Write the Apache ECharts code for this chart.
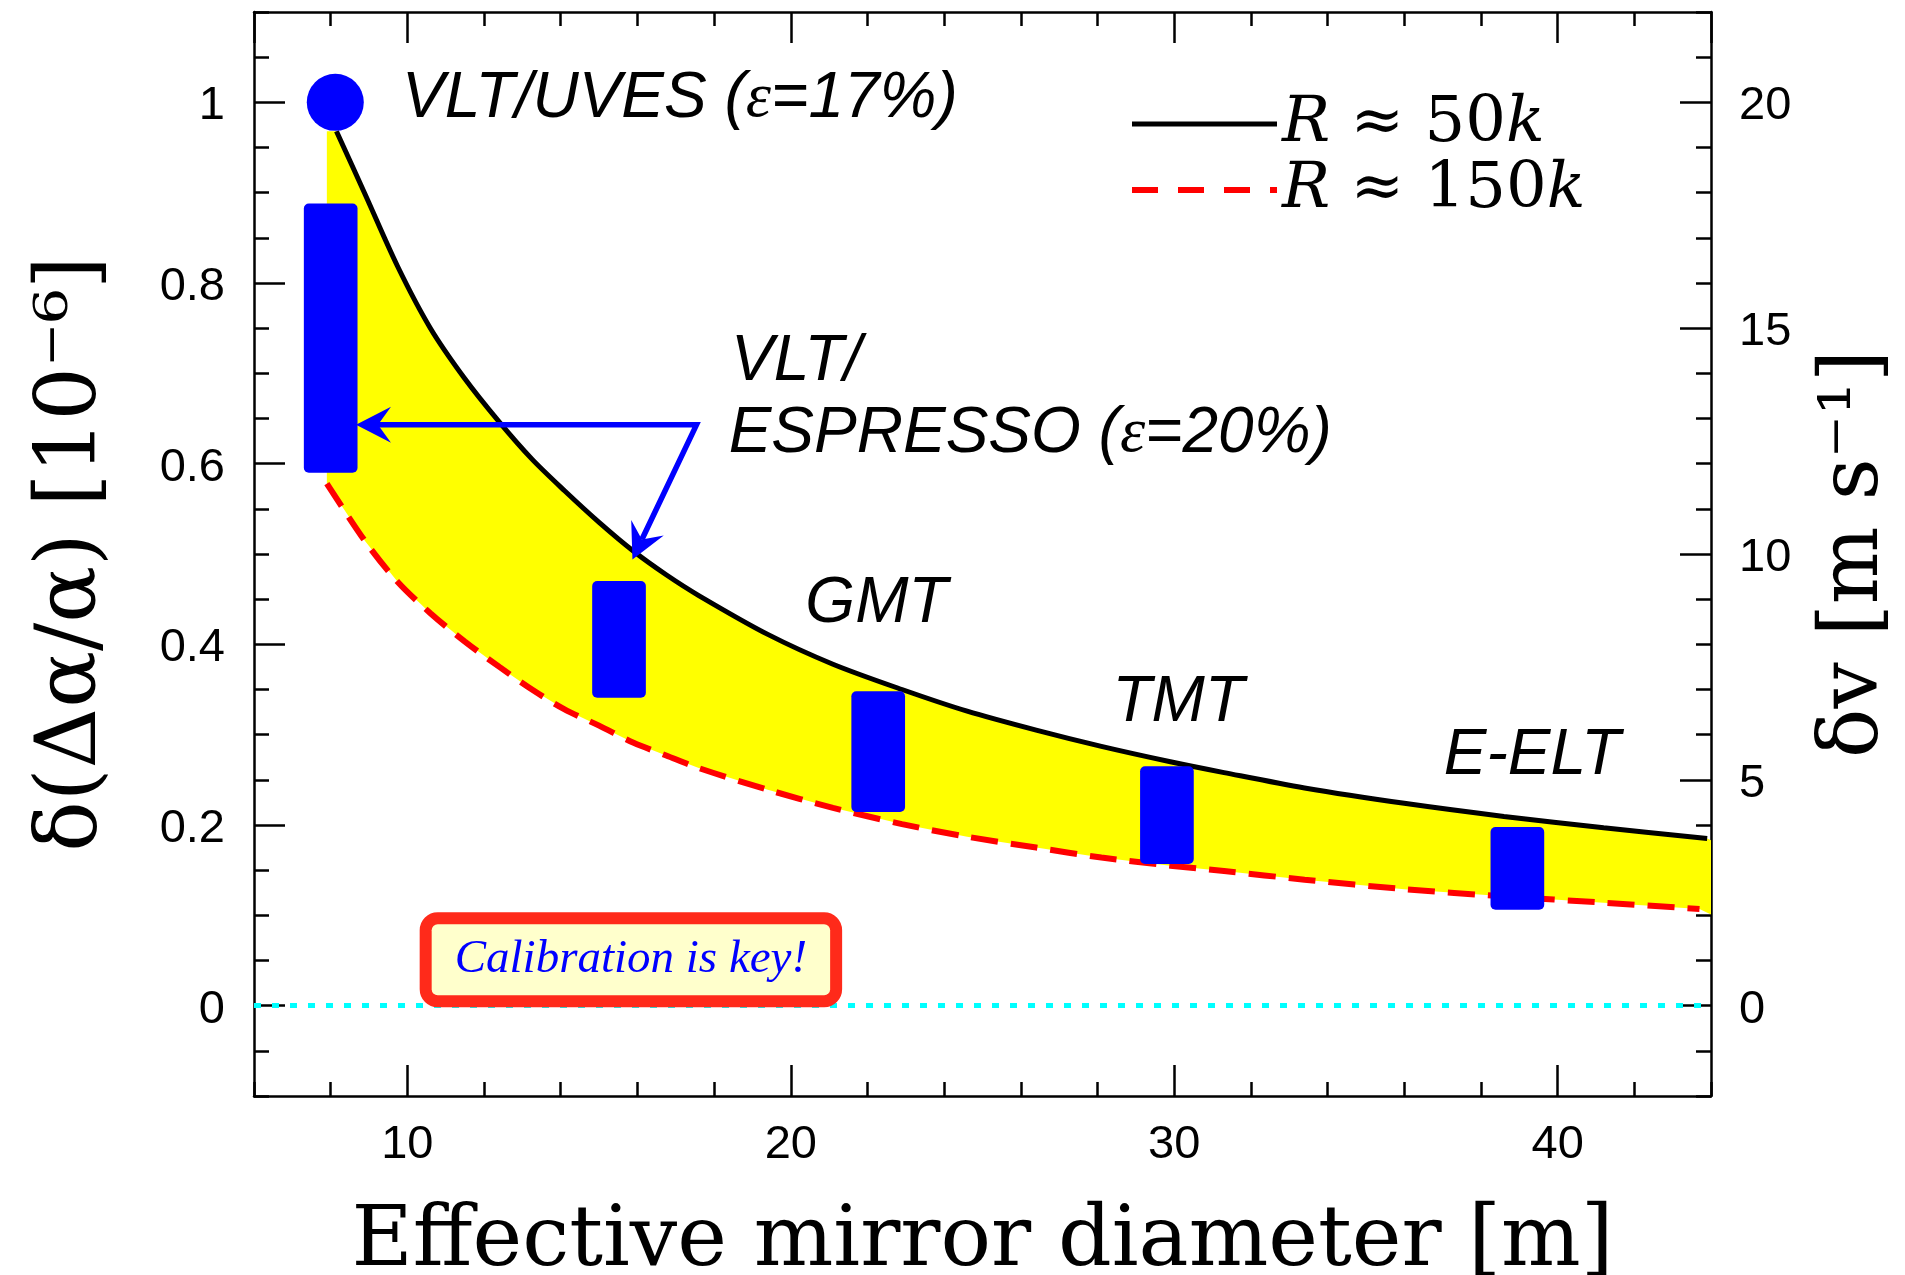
<!DOCTYPE html>
<html>
<head>
<meta charset="utf-8">
<script src="https://cdn.jsdelivr.net/npm/echarts@6/dist/echarts.min.js"></script>
<style>
html,body{margin:0;padding:0;background:#fff;}
#chart{width:1905px;height:1275px;}
</style>
</head>
<body>
<div id="chart"></div>
<script>
// ---------------- data ----------------
const diameter50k = [8.15, 8.9, 9.75, 10.6, 11.5, 12.4, 13.25, 14.1, 15.0, 15.9, 16.75, 17.6, 19.4, 21.1, 22.9, 24.6, 26.4, 28.1, 29.9, 31.3, 33.4, 36.0, 38.6, 41.2, 43.9];
const sigma50k    = [0.968, 0.898, 0.818, 0.750, 0.694, 0.646, 0.605, 0.570, 0.535, 0.503, 0.477, 0.454, 0.411, 0.378, 0.350, 0.326, 0.305, 0.287, 0.270, 0.258, 0.241, 0.224, 0.2095, 0.197, 0.185];
const diameter150k = [7.9, 8.9, 9.75, 10.6, 11.5, 12.4, 13.25, 14.1, 15.0, 15.9, 16.75, 17.6, 19.4, 21.1, 22.9, 24.6, 26.4, 28.1, 29.9, 31.3, 33.4, 36.0, 38.6, 41.2, 43.7];
const sigma150k    = [0.578, 0.514, 0.469, 0.4345, 0.403, 0.375, 0.350, 0.328, 0.310, 0.291, 0.277, 0.263, 0.239, 0.219, 0.201, 0.187, 0.175, 0.164, 0.155, 0.149, 0.1395, 0.129, 0.121, 0.114, 0.107];
const bandLeftTop = [7.9, 0.968];
const bandRightTop = [44, 0.183];
const bandRightBottom = [44, 0.101];

const telescopeNames = ['VLT/UVES', 'VLT/ESPRESSO', 'GMT', 'TMT', 'E-ELT'];
const boxDiameter = [8.0, 15.52, 22.28, 29.81, 38.95];
const boxLow  = [0.590, 0.341, 0.2144, 0.1568, 0.1063];
const boxHigh = [0.888, 0.470, 0.348, 0.2649, 0.1978];

const uvesPoint = [8.12, 1.0];

const arrowPath = [[8.66, 0.643], [17.54, 0.643], [15.87, 0.494]];

const annotationText = ['VLT/UVES ({e|\u03b5}=17%)', 'VLT/', 'ESPRESSO ({e|\u03b5}=20%)', 'GMT', 'TMT', 'E-ELT'];
const annotationX = [9.86, 18.44, 18.38, 20.38, 28.39, 37.03];
const annotationY = [1.004, 0.712, 0.633, 0.444, 0.335, 0.276];

const calibrationText = 'Calibration is key!';
const calibrationAt = [15.83, 0.0509];

const legendNames = ['R \u2248 50k', 'R \u2248 150k'];
const xTitle = 'Effective mirror diameter [m]';
const yTitleLeft = '\u03b4(\u0394\u03b1/\u03b1) [10\u207b\u2076]';
const yTitleRight = '\u03b4v [m s\u207b\u00b9]';

// ---------------- styles ----------------
const SERIF = 'DejaVu Serif';
const SANS = 'Liberation Sans';
const BLUE = '#0000FF';
const boxWidthD = 1.4;

const lineSt = {color: '#000', width: 2.5};
function xAx(pos, major, labels) {
  const a = {
    type: 'value', position: pos, min: 6, max: 44,
    splitLine: {show: false},
    axisLine: {show: major, onZero: false, lineStyle: lineSt},
    axisTick: {show: true, inside: true, length: major ? 31 : 14, lineStyle: lineSt},
    axisLabel: {show: labels, showMinLabel: false, showMaxLabel: false, margin: 26,
      fontFamily: SANS, fontSize: 47, color: '#000'}
  };
  if (major) a.splitNumber = 4; else a.interval = 2;
  return a;
}
function yAx(pos, major, labels, min, max, splitNumber, interval) {
  const a = {
    type: 'value', position: pos, min: min, max: max,
    splitLine: {show: false},
    axisLine: {show: major, onZero: false, lineStyle: lineSt},
    axisTick: {show: true, inside: true, length: major ? 31 : 15, lineStyle: lineSt},
    axisLabel: {show: labels, showMinLabel: false, showMaxLabel: false,
      margin: pos === 'left' ? 29 : 28,
      formatter: function (v) { return '{a|' + String(Math.round(v * 100) / 100) + '}'; },
      rich: {a: {fontFamily: SANS, fontSize: 47, color: '#000', padding: [8, 0, 0, 0]}},
      fontFamily: SANS, fontSize: 47, color: '#000'}
  };
  if (major) a.splitNumber = splitNumber; else a.interval = interval;
  return a;
}

const xAxes = [xAx('bottom', true, true), xAx('bottom', false, false), xAx('top', true, false), xAx('top', false, false)];
Object.assign(xAxes[0], {name: xTitle, nameLocation: 'middle', nameGap: 105,
  nameTextStyle: {fontFamily: SERIF, fontSize: 84, color: '#000'}});

const yAxes = [
  yAx('left', true, true, -0.1, 1.1, 6),
  yAx('left', false, false, -0.1, 1.1, 0, 0.05),
  yAx('right', true, true, -2, 22, 5),
  yAx('right', false, false, -2, 22, 0, 1)
];
Object.assign(yAxes[0], {name: yTitleLeft, nameLocation: 'middle', nameGap: 139, nameRotate: 90,
  nameTextStyle: {fontFamily: SERIF, fontSize: 84, color: '#000'}});
Object.assign(yAxes[2], {name: yTitleRight, nameLocation: 'middle', nameGap: 104, nameRotate: 90,
  nameTextStyle: {fontFamily: SERIF, fontSize: 82, color: '#000'}});

const chart = echarts.init(document.getElementById('chart'), null, {renderer: 'canvas'});

const option = {
  animation: false,
  backgroundColor: '#fff',
  grid: {left: 254, right: 194, top: 12, bottom: 179, containLabel: false, outerBoundsMode: 'none'},
  xAxis: xAxes,
  yAxis: yAxes,
  legend: {
    show: true, orient: 'vertical', left: 1124, top: 86,
    data: [
      {name: legendNames[0], lineStyle: {width: 5, color: '#000'}},
      {name: legendNames[1], lineStyle: {width: 6, color: '#FF0000', type: [26, 20]}}
    ],
    itemWidth: 145, itemHeight: 20, itemGap: 0, selectedMode: false,
    itemStyle: {color: 'rgba(0,0,0,0)', borderColor: 'rgba(0,0,0,0)', borderWidth: 0},
    formatter: function (n) { return n === legendNames[0] ? '{i|R} \u2248 50{i|k}' : '{i|R} \u2248 150{i|k}'; },
    textStyle: {fontFamily: SERIF, fontSize: 64, color: '#000', lineHeight: 66,
      rich: {i: {fontFamily: SERIF, fontStyle: 'italic', fontSize: 64, color: '#000', lineHeight: 66}}}
  },
  series: [
    {
      type: 'custom', name: 'band', silent: true, z: 1,
      data: [[10, 0.5]],
      renderItem: function (params, api) {
        const pts = [api.coord(bandLeftTop)];
        diameter50k.forEach(function (d, i) { pts.push(api.coord([d, sigma50k[i]])); });
        pts.push(api.coord(bandRightTop));
        pts.push(api.coord(bandRightBottom));
        for (let i = diameter150k.length - 1; i >= 0; i--) pts.push(api.coord([diameter150k[i], sigma150k[i]]));
        return {type: 'polygon', shape: {points: pts}, style: {fill: '#FFFF00'}};
      }
    },
    {
      type: 'line', name: legendNames[0], z: 3, symbol: 'none', smooth: 0.3, silent: true,
      data: diameter50k.map(function (d, i) { return [d, sigma50k[i]]; }),
      lineStyle: {color: '#000', width: 5},
      itemStyle: {color: '#000'},
      emphasis: {disabled: true},
      markLine: {
        silent: true, symbol: ['none', 'none'], label: {show: false},
        lineStyle: {color: '#00FFFF', width: 5, type: [7, 11]},
        data: [{yAxis: 0}]
      }
    },
    {
      type: 'line', name: legendNames[1], z: 3, symbol: 'none', smooth: 0.3, silent: true,
      data: diameter150k.map(function (d, i) { return [d, sigma150k[i]]; }),
      lineStyle: {color: '#FF0000', width: 6, type: [27, 13]},
      itemStyle: {color: '#FF0000'},
      emphasis: {disabled: true}
    },
    {
      type: 'custom', name: 'telescopes', silent: true, z: 5,
      data: boxDiameter.map(function (d, i) { return [d, boxLow[i], boxHigh[i], telescopeNames[i]]; }),
      renderItem: function (params, api) {
        const x = api.value(0);
        const top = api.coord([x, api.value(2)]);
        const bot = api.coord([x, api.value(1)]);
        const w = api.size([boxWidthD, 0])[0];
        return {type: 'rect', shape: {x: top[0] - w / 2, y: top[1], width: w, height: bot[1] - top[1], r: 5},
          style: {fill: BLUE}};
      }
    },
    {
      type: 'scatter', name: 'VLT/UVES', silent: true, z: 6,
      data: [uvesPoint], symbol: 'circle', symbolSize: 57,
      itemStyle: {color: BLUE, opacity: 1}
    },
    {
      type: 'custom', name: 'arrows', silent: true, z: 7,
      data: [[10, 0.5]],
      renderItem: function (params, api) {
        const p = arrowPath.map(function (c) { return api.coord(c); });
        const len = 35, hw = 18, notch = 22;
        const children = [];
        function head(a, b) {
          const dx = b[0] - a[0], dy = b[1] - a[1], L = Math.hypot(dx, dy);
          const ux = dx / L, uy = dy / L, nx = -uy, ny = ux;
          children.push({type: 'polygon', shape: {points: [
            b,
            [b[0] - ux * len + nx * hw, b[1] - uy * len + ny * hw],
            [b[0] - ux * notch, b[1] - uy * notch],
            [b[0] - ux * len - nx * hw, b[1] - uy * len - ny * hw]
          ]}, style: {fill: BLUE}});
          return [b[0] - ux * notch, b[1] - uy * notch];
        }
        const s0 = head(p[1], p[0]);
        const s2 = head(p[1], p[2]);
        children.unshift({type: 'polyline', shape: {points: [s0, p[1], s2]},
          style: {stroke: BLUE, lineWidth: 5.5, fill: null, lineJoin: 'miter'}});
        return {type: 'group', children: children};
      }
    },
    {
      type: 'custom', name: 'annotations', silent: true, z: 8,
      data: annotationText.map(function (t, i) { return [annotationX[i], annotationY[i]]; }),
      renderItem: function (params, api) {
        const i = params.dataIndex;
        const p = api.coord([annotationX[i], annotationY[i]]);
        return {type: 'text', x: p[0], y: p[1], style: {
          text: annotationText[i], fontFamily: SANS, fontStyle: 'italic', fontSize: 64, fill: '#000',
          align: 'left', verticalAlign: 'middle',
          rich: {e: {fontFamily: 'Liberation Serif', fontStyle: 'italic', fontSize: 64, fill: '#000'}}
        }};
      }
    },
    {
      type: 'custom', name: 'calibration', silent: true, z: 9,
      data: [calibrationAt],
      renderItem: function (params, api) {
        const p = api.coord(calibrationAt);
        return {type: 'text', x: p[0], y: p[1], style: {
          text: calibrationText, fontFamily: 'Liberation Serif', fontStyle: 'italic', fontSize: 47, fill: BLUE,
          align: 'center', verticalAlign: 'middle',
          backgroundColor: '#FFFFCC', borderColor: '#FF2A1A', borderWidth: 12, borderRadius: 6,
          padding: [12, 23]
        }};
      }
    }
  ]
};
chart.setOption(option);
</script>
</body>
</html>
